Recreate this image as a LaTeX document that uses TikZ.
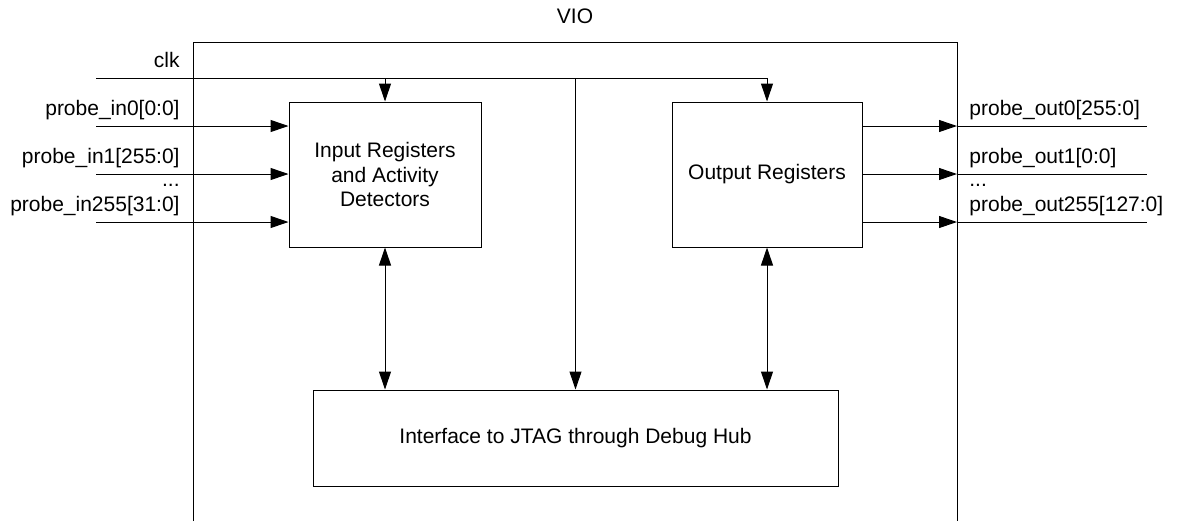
\documentclass[tikz,border=0pt]{standalone}
\usepackage{fontspec}
\setmainfont{Liberation Sans}
\usepackage{tikz}
\usetikzlibrary{positioning,calc,arrows.meta}

\begin{document}
\begin{tikzpicture}[
    x=0.5pt, y=-0.5pt,
    font=\fontsize{10.5}{12.25}\selectfont,
    blk/.style={rectangle, draw, line width=0.5pt, align=center, inner sep=0pt},
    sig/.style={-{Triangle[length=9pt, width=6pt]}, line width=0.5pt},
    bidir/.style={{Triangle[length=9pt, width=6pt]}-{Triangle[length=9pt, width=6pt]}, line width=0.5pt},
    lbl/.style={inner sep=0pt}
]
    \useasboundingbox (0,0) rectangle (1179,521);

    % VIO frame, open at the bottom
    \draw[line width=0.5pt] (193,521) |- (957,42) -- (957,521);
    \node[lbl] (vio) at (575,16) {VIO};

    \node[blk, minimum width=96pt, minimum height=72.5pt] (inreg) at (385,174.5) {Input Registers\\and Activity\\Detectors};
    \node[blk, minimum width=95pt, minimum height=72.5pt] (outreg) at (767,174.5) {Output Registers};
    \node[blk, minimum width=262.5pt, minimum height=48pt] (jtag) at (575.5,438) {Interface to JTAG through Debug Hub};

    % clock
    \coordinate (clkin) at (96,78);
    \node[lbl, anchor=base east] (lclk) at (180,67) {clk};
    \draw[sig] (clkin) -| (outreg.north);
    \draw[sig] (inreg.north |- clkin) -- (inreg.north);
    \draw[sig] (jtag.north |- clkin) -- (jtag.north);

    \draw[bidir] (inreg.south) -- (inreg.south |- jtag.north);
    \draw[bidir] (outreg.south) -- (outreg.south |- jtag.north);

    % probe inputs
    \foreach \y/\n in {126/a, 174/b, 222/c} {
        \coordinate (in\n) at (96,\y);
        \draw[sig] (in\n) -- (in\n -| inreg.west);
    }
    \node[lbl, anchor=base east] (lina) at (180,115.5) {probe\_in0[0:0]};
    \node[lbl, anchor=base east] (linb) at (180,163.5) {probe\_in1[255:0]};
    \node[lbl, anchor=base east] (lindots) at (180,186) {...};
    \node[lbl, anchor=base east] (linc) at (180,211.5) {probe\_in255[31:0]};

    % probe outputs
    \foreach \y/\n in {126/a, 174/b, 222/c} {
        \coordinate (out\n) at (1147,\y);
        \coordinate (port\n) at (957,\y);
        \draw[sig] (outreg.east |- out\n) -- (port\n);
        \draw[line width=0.5pt] (port\n) -- (out\n);
    }
    \node[lbl, anchor=base west] (louta) at (969,115.5) {probe\_out0[255:0]};
    \node[lbl, anchor=base west] (loutb) at (969,163.5) {probe\_out1[0:0]};
    \node[lbl, anchor=base west] (loutdots) at (969,186) {...};
    \node[lbl, anchor=base west] (loutc) at (969,211.5) {probe\_out255[127:0]};
\end{tikzpicture}
\end{document}
